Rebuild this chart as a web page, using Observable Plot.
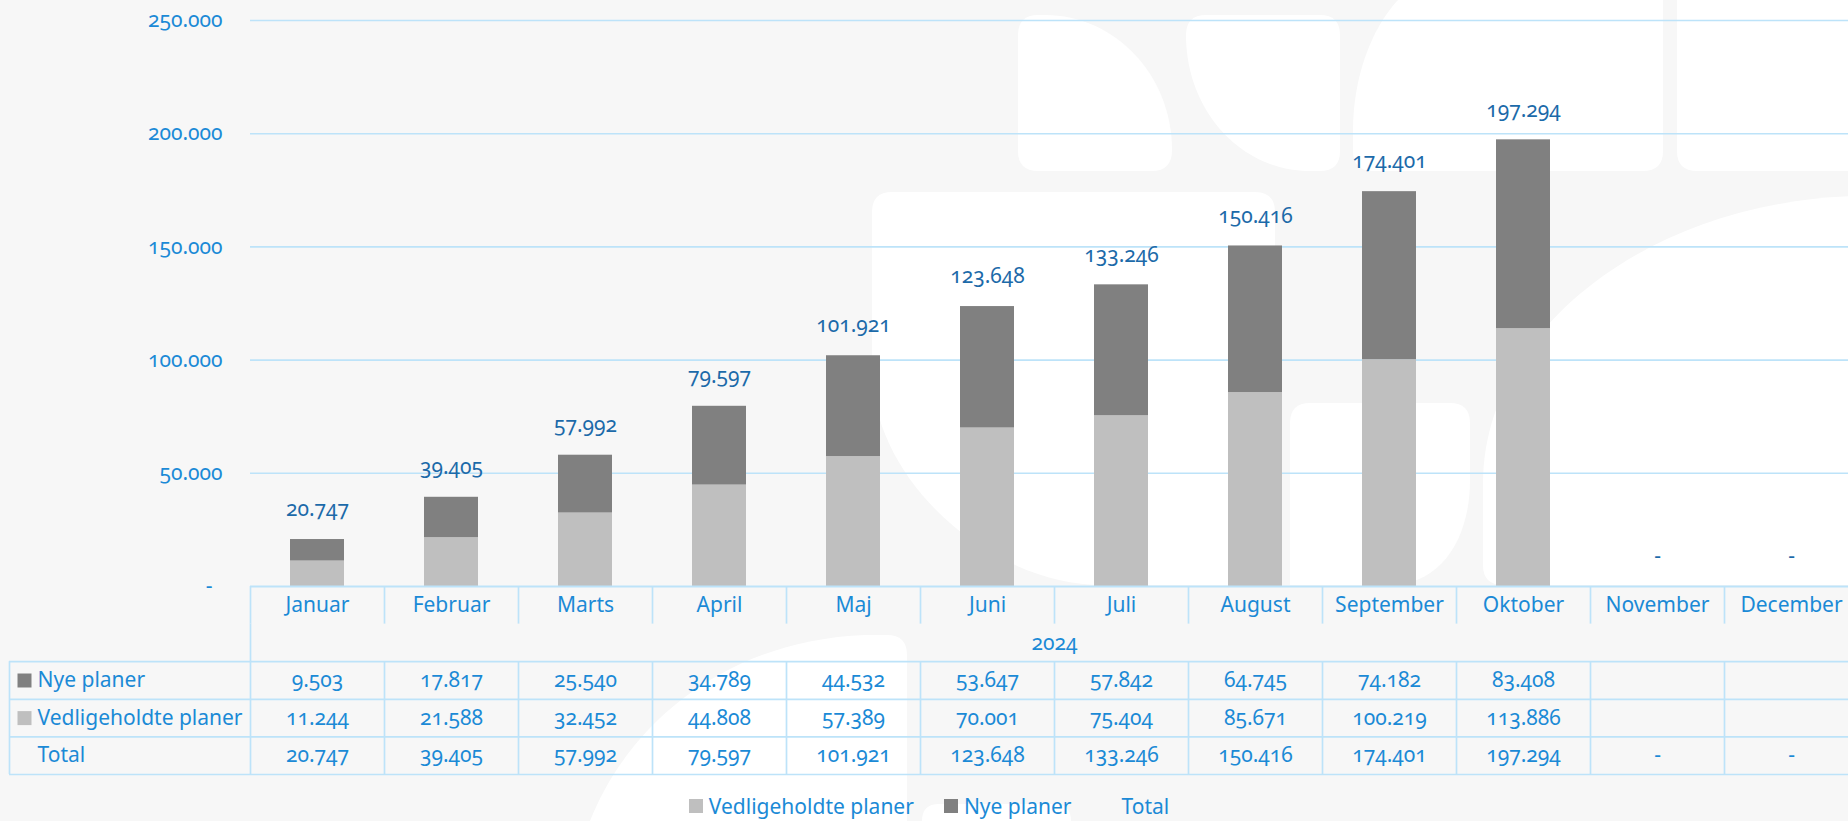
<!DOCTYPE html>
<html><head><meta charset="utf-8">
<script src="https://cdn.jsdelivr.net/npm/d3@7"></script>
<script src="https://cdn.jsdelivr.net/npm/@observablehq/plot@0.6"></script>
<style>
html,body{margin:0;padding:0;background:#f7f7f7;overflow:hidden;}
#wrap{position:relative;width:1858px;height:821px;overflow:hidden;font-family:"Noto Sans",sans-serif;}
#wm{position:absolute;left:0;top:0;}
#chart,#table,#legend{position:absolute;left:0;}
#chart{top:0}
#table{top:584px}
#legend{top:796px;width:1858px;height:20px;display:flex;justify-content:center;align-items:center;gap:30px;font-size:21px;color:#1b8ad6;line-height:20px}
.item{display:flex;align-items:center;}
.sw{width:14px;height:14px;margin-right:6px;}
svg text{font-variant-numeric:oldstyle-nums;}
</style></head><body>
<div id="wrap">
<svg id="wm" width="1858" height="821">
  <g fill="#ffffff">
    <path d="M1018,35 Q1018,15 1038,15 L1045,15 C1115,15 1172,75 1172,150 Q1172,171 1152,171 L1038,171 Q1018,171 1018,151 Z"/>
    <path d="M1186,35 Q1186,15 1206,15 L1320,15 Q1340,15 1340,35 L1340,151 Q1340,171 1320,171 L1310,171 C1240,171 1186,110 1186,35 Z"/>
    <path d="M1398,0 L1663,0 L1663,151 Q1663,171 1643,171 L1373,171 Q1353,171 1353,151 L1353,130 C1353,80 1370,30 1398,0 Z"/>
    <path d="M1677,0 L1860,0 L1860,171 L1697,171 Q1677,171 1677,151 Z"/>
    <path d="M872,212 Q872,192 892,192 L1255,192 Q1275,192 1275,212 L1275,585 L1103,585 C990,585 872,480 872,370 Z"/>
    <path d="M1290,423 Q1290,403 1310,403 L1450,403 Q1470,403 1470,423 L1470,480 C1470,540 1440,585 1390,585 L1290,585 Z"/>
    <path d="M1860,196 L1860,585 L1503,585 Q1483,585 1483,565 L1483,483 C1483,330 1650,200 1860,196 Z"/>
    <path d="M590,821 C630,720 730,640 865,635 L887,635 Q907,635 907,655 L907,821 Z"/>
    <path d="M922,821 Q922,804 939,804 L1054,804 Q1071,804 1071,821 Z"/>
  </g>
</svg>
<div id="chart"></div><div id="table"></div><div id="legend"></div>
</div>
<script>
// ---- data ----
const months = ["Januar","Februar","Marts","April","Maj","Juni","Juli","August","September","Oktober","November","December"];
const year = "2024";
const seriesNames = ["Vedligeholdte planer","Nye planer","Total"];
const nyePlaner = [9503,17817,25540,34789,44532,53647,57842,64745,74182,83408,null,null];
const vedligeholdtePlaner = [11244,21588,32452,44808,57389,70001,75404,85671,100219,113886,null,null];
const total = [20747,39405,57992,79597,101921,123648,133246,150416,174401,197294,0,0];
const yTicks = [0,50000,100000,150000,200000,250000];

// ---- style ----
const W = 1858;
const FS = 21;
const FONT = '"Noto Sans", sans-serif';
const BLUE = "#1b8ad6";
const LABEL_BLUE = "#1c6aa9";
const GRID = "#bde3f9";
const LIGHT = "#bfbfbf";
const DARK = "#808080";
const seriesColors = [LIGHT, DARK, "transparent"];

const locale = d3.formatLocale({decimal: ",", thousands: ".", grouping: [3], currency: ["", ""]});
const fmt = locale.format(",d");
const fmtVal = v => v == null ? "" : v === 0 ? "-" : fmt(v);

const stacked = [];
months.forEach((m, i) => { if (vedligeholdtePlaner[i] != null) stacked.push({month: m, series: seriesNames[0], value: vedligeholdtePlaner[i]}); });
months.forEach((m, i) => { if (nyePlaner[i] != null) stacked.push({month: m, series: seriesNames[1], value: nyePlaner[i]}); });
const totals = months.map((m, i) => ({month: m, total: total[i]}));

const baseStyle = {background: "transparent", fontFamily: FONT, fontSize: FS + "px", maxWidth: "none", overflow: "visible"};

const chart = Plot.plot({
  width: W, height: 590, marginTop: 20, marginBottom: 4, marginLeft: 250, marginRight: 0,
  style: baseStyle,
  x: {domain: months, padding: 0, axis: null},
  y: {domain: [0, 250000], axis: null},
  color: {domain: seriesNames.slice(0, 2), range: [LIGHT, DARK]},
  marks: [
    Plot.ruleY(yTicks.filter(d => d > 0), {stroke: GRID, strokeWidth: 1.6}),
    Plot.barY(stacked, {x: "month", y: "value", fill: "series", insetLeft: 40, insetRight: 40}),
    Plot.text(totals, {x: "month", y: "total", text: d => fmtVal(d.total), dy: -30, fill: LABEL_BLUE, fontSize: FS}),
    Plot.axisY(yTicks.filter(d => d > 0), {tickSize: 0, tickPadding: 28, tickFormat: fmt, fill: BLUE, fontSize: FS}),
    Plot.axisY([0], {tickSize: 0, tickPadding: 38, tickFormat: () => "-", fill: BLUE, fontSize: FS})
  ]
});
document.getElementById("chart").appendChild(chart);

// ---- data table ----
const nCols = months.length;
const colW = (W - 250) / nCols;
const labelStart = -(250 - 9) / colW;
const tableRows = [
  {key: seriesNames[1], values: nyePlaner, color: DARK},
  {key: seriesNames[0], values: vedligeholdtePlaner, color: LIGHT},
  {key: seriesNames[2], values: total, color: null}
];
const cells = [];
tableRows.forEach((r, ri) => r.values.forEach((v, ci) => cells.push({x: ci + 0.5, y: 2.5 + ri, text: fmtVal(v)})));
const hLines = [{y: 0, x1: 0, x2: nCols, w: 2.2}].concat([2, 3, 4, 5].map(y => ({y, x1: labelStart, x2: nCols, w: 1.7})));
const vLines = d3.range(0, nCols + 1).map(x => ({x, y1: 0, y2: 1}))
  .concat([{x: 0, y1: 1, y2: 2}, {x: nCols, y1: 1, y2: 2}])
  .concat([labelStart, ...d3.range(0, nCols + 1)].map(x => ({x, y1: 2, y2: 5})));

const table = Plot.plot({
  width: W, height: 194, margin: 0,
  style: baseStyle,
  x: {type: "linear", domain: [labelStart, nCols], range: [9, W], axis: null},
  y: {type: "linear", domain: [0, 5], range: [2, 190], axis: null},
  color: {type: "identity"},
  marks: [
    Plot.ruleY(hLines, {y: "y", x1: "x1", x2: "x2", stroke: GRID, strokeWidth: "w"}),
    Plot.ruleX(vLines, {x: "x", y1: "y1", y2: "y2", stroke: GRID, strokeWidth: 1.7}),
    Plot.text(months, {x: (d, i) => i + 0.5, y: 0.5, text: d => d, fill: BLUE, fontSize: FS}),
    Plot.text([year], {x: nCols / 2, y: 1.5, text: d => d, fill: BLUE, fontSize: FS}),
    Plot.text(cells, {x: "x", y: "y", text: "text", fill: BLUE, fontSize: FS}),
    Plot.text(tableRows, {x: labelStart, y: (d, i) => 2.5 + i, text: "key", textAnchor: "start", dx: 28, fill: BLUE, fontSize: FS}),
    Plot.dot(tableRows.filter(d => d.color), {x: labelStart, y: (d, i) => 2.5 + i, symbol: "square", r: 7.9, dx: 15, fill: "color", stroke: null})
  ]
});
document.getElementById("table").appendChild(table);

// ---- legend ----
const legend = document.getElementById("legend");
seriesNames.forEach((name, i) => {
  const item = document.createElement("div");
  item.className = "item";
  const sw = document.createElement("span");
  sw.className = "sw";
  sw.style.background = seriesColors[i];
  const lab = document.createElement("span");
  lab.textContent = name;
  item.appendChild(sw); item.appendChild(lab);
  legend.appendChild(item);
});
</script>
</body></html>
